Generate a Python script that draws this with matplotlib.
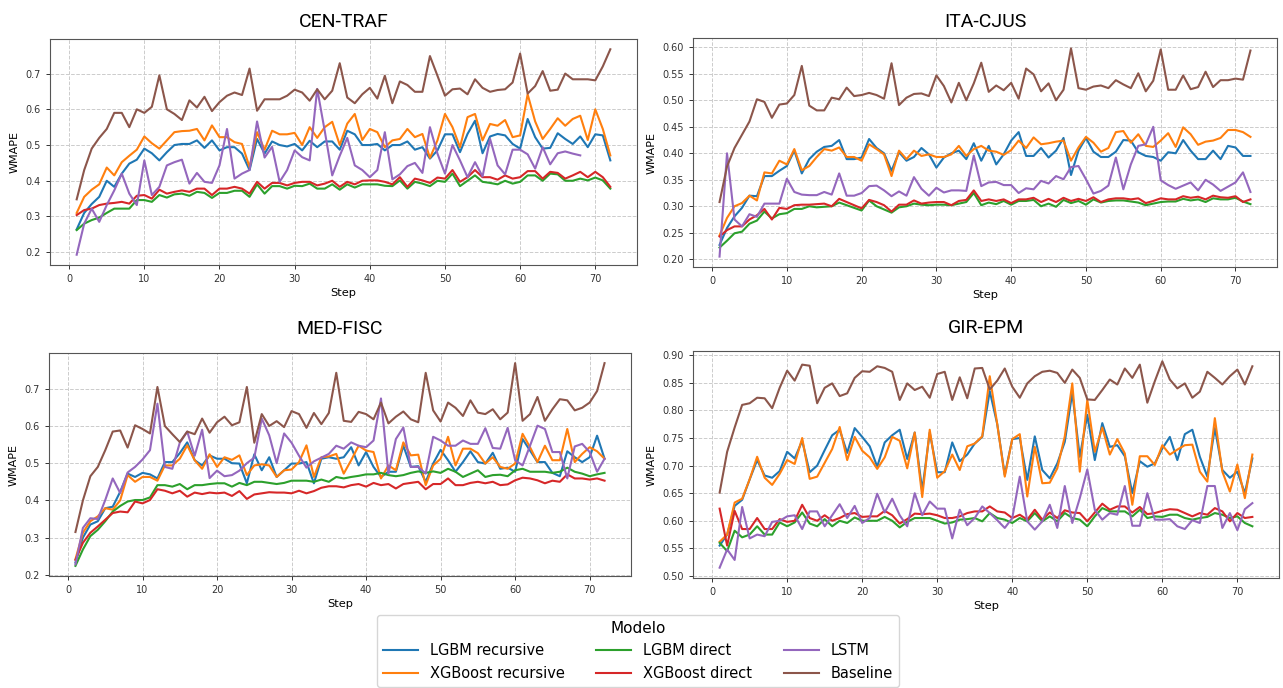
import numpy as np
import matplotlib
matplotlib.use("Agg")
import matplotlib.pyplot as plt

steps = np.arange(1, 73)

model_names = ["LGBM recursive", "XGBoost recursive", "LGBM direct",
               "XGBoost direct", "LSTM", "Baseline"]
model_colors = ["#1f77b4", "#ff7f0e", "#2ca02c", "#d62728", "#9467bd", "#8c564b"]

# ---- CEN-TRAF ----
cen_lgbm_rec = [0.264, 0.31, 0.335, 0.355, 0.40, 0.383, 0.42, 0.448, 0.459, 0.49, 0.477, 0.457, 0.48, 0.50, 0.503, 0.503, 0.513, 0.492, 0.513, 0.485, 0.494, 0.494, 0.476, 0.43, 0.517, 0.476, 0.51, 0.50, 0.496, 0.503, 0.485, 0.512, 0.494, 0.51, 0.51,
                0.487, 0.54, 0.53, 0.50, 0.50, 0.503, 0.485, 0.50, 0.50, 0.51, 0.487, 0.494, 0.462, 0.485, 0.53, 0.53, 0.48, 0.531, 0.568, 0.477, 0.524, 0.531, 0.527, 0.503, 0.49, 0.573, 0.522, 0.49, 0.492, 0.533, 0.517, 0.503, 0.524, 0.494, 0.53, 0.527, 0.457]
cen_xgb_rec = [0.31, 0.355, 0.375, 0.39, 0.437, 0.415, 0.452, 0.47, 0.487, 0.524, 0.505, 0.49, 0.513, 0.536, 0.539, 0.54, 0.545, 0.513, 0.555, 0.522, 0.522, 0.508, 0.503, 0.438, 0.536, 0.487, 0.54, 0.53, 0.53, 0.534, 0.50, 0.55, 0.52, 0.55, 0.565,
               0.50, 0.56, 0.587, 0.514, 0.545, 0.536, 0.494, 0.513, 0.517, 0.545, 0.522, 0.531, 0.464, 0.513, 0.587, 0.55, 0.494, 0.578, 0.587, 0.513, 0.559, 0.554, 0.57, 0.522, 0.527, 0.642, 0.566, 0.517, 0.545, 0.575, 0.554, 0.573, 0.582, 0.514, 0.60, 0.545, 0.471]
cen_lgbm_dir = [0.262, 0.28, 0.29, 0.297, 0.31, 0.322, 0.322, 0.322, 0.346, 0.346, 0.341, 0.36, 0.353, 0.362, 0.364, 0.358, 0.369, 0.366, 0.352, 0.366, 0.366, 0.372, 0.372, 0.355, 0.39, 0.364, 0.385, 0.385, 0.378, 0.386, 0.385, 0.392, 0.378, 0.378, 0.39,
                0.375, 0.39, 0.381, 0.39, 0.39, 0.39, 0.386, 0.385, 0.401, 0.378, 0.397, 0.392, 0.385, 0.40, 0.397, 0.42, 0.385, 0.40, 0.415, 0.397, 0.394, 0.39, 0.40, 0.392, 0.397, 0.415, 0.415, 0.40, 0.42, 0.418, 0.40, 0.40, 0.406, 0.401, 0.409, 0.401, 0.378]
cen_xgb_dir = [0.304, 0.318, 0.322, 0.332, 0.336, 0.338, 0.341, 0.336, 0.358, 0.36, 0.35, 0.375, 0.364, 0.369, 0.373, 0.369, 0.378, 0.378, 0.36, 0.378, 0.378, 0.383, 0.378, 0.364, 0.397, 0.378, 0.394, 0.394, 0.387, 0.394, 0.397, 0.397, 0.387, 0.392, 0.40,
               0.383, 0.397, 0.39, 0.40, 0.401, 0.401, 0.397, 0.39, 0.41, 0.383, 0.406, 0.401, 0.394, 0.409, 0.406, 0.43, 0.397, 0.41, 0.43, 0.41, 0.41, 0.403, 0.415, 0.406, 0.41, 0.427, 0.427, 0.406, 0.425, 0.422, 0.406, 0.415, 0.425, 0.41, 0.425, 0.41, 0.383]
cen_lstm = [0.193, 0.28, 0.322, 0.285, 0.332, 0.373, 0.42, 0.364, 0.332, 0.457, 0.36, 0.383, 0.443, 0.452, 0.459, 0.392, 0.422, 0.397, 0.394, 0.443, 0.545, 0.406, 0.42, 0.43, 0.566, 0.465, 0.495, 0.397, 0.43, 0.485, 0.466, 0.457, 0.657, 0.54, 0.415,
            0.47, 0.52, 0.443, 0.43, 0.41, 0.43, 0.536, 0.404, 0.418, 0.441, 0.45, 0.422, 0.55, 0.476, 0.42, 0.50, 0.457, 0.41, 0.452, 0.412, 0.517, 0.443, 0.418, 0.487, 0.487, 0.474, 0.434, 0.494, 0.446, 0.477, 0.482, 0.476, 0.471, np.nan, np.nan, np.nan, np.nan]
cen_baseline = [0.348, 0.43, 0.49, 0.52, 0.545, 0.59, 0.59, 0.55, 0.60, 0.59, 0.607, 0.695, 0.60, 0.587, 0.57, 0.625, 0.605, 0.635, 0.595, 0.62, 0.638, 0.647, 0.64, 0.714, 0.596, 0.628, 0.628, 0.628, 0.638, 0.655, 0.647, 0.624, 0.656, 0.628, 0.652,
                0.729, 0.633, 0.617, 0.642, 0.66, 0.63, 0.694, 0.617, 0.678, 0.668, 0.649, 0.649, 0.749, 0.694, 0.638, 0.656, 0.658, 0.642, 0.684, 0.66, 0.649, 0.654, 0.656, 0.675, 0.756, 0.644, 0.665, 0.707, 0.652, 0.655, 0.70, 0.684, 0.684, 0.684, 0.681, 0.72, 0.768]

# ---- ITA-CJUS ----
ita_lgbm_rec = [0.227, 0.259, 0.281, 0.297, 0.32, 0.319, 0.357, 0.357, 0.367, 0.376, 0.405, 0.362, 0.389, 0.403, 0.412, 0.414, 0.425, 0.389, 0.389, 0.392, 0.427, 0.41, 0.40, 0.367, 0.402, 0.386, 0.393, 0.41, 0.398, 0.373, 0.392, 0.40, 0.405, 0.389, 0.419,
                0.386, 0.414, 0.379, 0.398, 0.424, 0.44, 0.395, 0.395, 0.41, 0.392, 0.405, 0.429, 0.359, 0.405, 0.429, 0.403, 0.393, 0.393, 0.403, 0.425, 0.424, 0.402, 0.395, 0.393, 0.386, 0.402, 0.40, 0.425, 0.405, 0.389, 0.389, 0.405, 0.389, 0.414, 0.411, 0.395, 0.395]
ita_xgb_rec = [0.245, 0.278, 0.30, 0.306, 0.32, 0.311, 0.364, 0.362, 0.386, 0.379, 0.408, 0.368, 0.376, 0.393, 0.408, 0.405, 0.411, 0.393, 0.393, 0.386, 0.417, 0.408, 0.398, 0.357, 0.405, 0.389, 0.405, 0.395, 0.398, 0.393, 0.393, 0.398, 0.414, 0.395, 0.408,
               0.414, 0.405, 0.403, 0.397, 0.406, 0.424, 0.41, 0.43, 0.417, 0.419, 0.422, 0.424, 0.386, 0.411, 0.431, 0.42, 0.403, 0.41, 0.44, 0.442, 0.42, 0.436, 0.414, 0.412, 0.424, 0.438, 0.412, 0.449, 0.436, 0.416, 0.422, 0.424, 0.429, 0.444, 0.444, 0.44, 0.431]
ita_lgbm_dir = [0.222, 0.235, 0.249, 0.252, 0.267, 0.273, 0.29, 0.277, 0.285, 0.287, 0.295, 0.295, 0.30, 0.298, 0.299, 0.30, 0.307, 0.302, 0.297, 0.292, 0.311, 0.30, 0.294, 0.288, 0.298, 0.30, 0.305, 0.303, 0.302, 0.303, 0.303, 0.302, 0.305, 0.308, 0.325,
                0.302, 0.307, 0.304, 0.31, 0.303, 0.31, 0.31, 0.312, 0.30, 0.305, 0.299, 0.312, 0.306, 0.31, 0.303, 0.313, 0.307, 0.31, 0.311, 0.311, 0.309, 0.307, 0.302, 0.305, 0.308, 0.309, 0.309, 0.314, 0.311, 0.313, 0.308, 0.315, 0.313, 0.313, 0.316, 0.309, 0.304]
ita_xgb_dir = [0.243, 0.255, 0.262, 0.262, 0.275, 0.283, 0.295, 0.275, 0.297, 0.295, 0.302, 0.303, 0.303, 0.304, 0.305, 0.30, 0.314, 0.308, 0.302, 0.296, 0.312, 0.308, 0.302, 0.29, 0.303, 0.303, 0.311, 0.305, 0.307, 0.308, 0.308, 0.302, 0.31, 0.312, 0.33,
               0.31, 0.313, 0.31, 0.313, 0.306, 0.313, 0.313, 0.316, 0.308, 0.314, 0.308, 0.316, 0.31, 0.314, 0.31, 0.317, 0.308, 0.313, 0.315, 0.315, 0.313, 0.315, 0.306, 0.31, 0.315, 0.313, 0.313, 0.319, 0.316, 0.318, 0.313, 0.32, 0.317, 0.316, 0.319, 0.308, 0.313]
ita_lstm = [0.205, 0.40, 0.275, 0.262, 0.285, 0.28, 0.305, 0.305, 0.305, 0.352, 0.327, 0.322, 0.321, 0.321, 0.327, 0.322, 0.362, 0.32, 0.32, 0.325, 0.338, 0.339, 0.33, 0.319, 0.328, 0.32, 0.355, 0.333, 0.32, 0.335, 0.326, 0.33, 0.33, 0.329, 0.396,
            0.338, 0.345, 0.346, 0.34, 0.34, 0.325, 0.334, 0.332, 0.348, 0.343, 0.357, 0.351, 0.374, 0.376, 0.351, 0.324, 0.329, 0.339, 0.392, 0.332, 0.379, 0.414, 0.417, 0.45, 0.349, 0.34, 0.333, 0.339, 0.345, 0.33, 0.35, 0.341, 0.329, 0.337, 0.345, 0.364, 0.327]
ita_baseline = [0.308, 0.375, 0.41, 0.435, 0.46, 0.502, 0.497, 0.467, 0.492, 0.494, 0.51, 0.565, 0.49, 0.481, 0.481, 0.505, 0.502, 0.524, 0.508, 0.51, 0.514, 0.51, 0.503, 0.57, 0.491, 0.505, 0.512, 0.513, 0.508, 0.547, 0.527, 0.496, 0.533, 0.50, 0.532,
                0.571, 0.516, 0.528, 0.519, 0.533, 0.503, 0.56, 0.549, 0.517, 0.532, 0.50, 0.52, 0.598, 0.523, 0.52, 0.526, 0.528, 0.523, 0.538, 0.53, 0.523, 0.551, 0.517, 0.537, 0.596, 0.52, 0.52, 0.547, 0.521, 0.525, 0.554, 0.525, 0.538, 0.538, 0.541, 0.539, 0.594]

# ---- MED-FISC ----
med_lgbm_rec = [0.233, 0.30, 0.335, 0.344, 0.379, 0.383, 0.423, 0.472, 0.463, 0.474, 0.47, 0.459, 0.503, 0.503, 0.527, 0.556, 0.508, 0.494, 0.521, 0.512, 0.512, 0.50, 0.499, 0.446, 0.524, 0.481, 0.516, 0.463, 0.481, 0.499, 0.499, 0.503, 0.446, 0.512, 0.516,
                0.512, 0.516, 0.543, 0.494, 0.53, 0.49, 0.463, 0.477, 0.477, 0.547, 0.49, 0.492, 0.45, 0.499, 0.536, 0.508, 0.477, 0.503, 0.532, 0.503, 0.499, 0.528, 0.485, 0.488, 0.477, 0.565, 0.534, 0.503, 0.503, 0.474, 0.465, 0.532, 0.516, 0.503, 0.516, 0.574, 0.512]
med_xgb_rec = [0.242, 0.313, 0.344, 0.357, 0.379, 0.375, 0.40, 0.468, 0.45, 0.463, 0.463, 0.453, 0.494, 0.494, 0.512, 0.548, 0.508, 0.485, 0.524, 0.49, 0.516, 0.509, 0.521, 0.468, 0.494, 0.497, 0.494, 0.463, 0.481, 0.483, 0.503, 0.548, 0.463, 0.516, 0.518,
               0.525, 0.472, 0.508, 0.547, 0.534, 0.53, 0.459, 0.494, 0.481, 0.556, 0.521, 0.523, 0.441, 0.494, 0.512, 0.571, 0.494, 0.539, 0.539, 0.527, 0.499, 0.516, 0.49, 0.485, 0.499, 0.579, 0.543, 0.503, 0.547, 0.508, 0.508, 0.592, 0.503, 0.525, 0.543, 0.532, 0.512]
med_lgbm_dir = [0.224, 0.268, 0.304, 0.321, 0.344, 0.37, 0.385, 0.397, 0.401, 0.401, 0.408, 0.441, 0.441, 0.437, 0.444, 0.43, 0.441, 0.441, 0.444, 0.446, 0.446, 0.437, 0.447, 0.441, 0.45, 0.45, 0.447, 0.444, 0.447, 0.453, 0.453, 0.453, 0.45, 0.456, 0.45,
                0.463, 0.459, 0.463, 0.466, 0.47, 0.47, 0.474, 0.468, 0.465, 0.468, 0.474, 0.478, 0.474, 0.478, 0.474, 0.485, 0.477, 0.463, 0.472, 0.481, 0.463, 0.468, 0.469, 0.465, 0.481, 0.485, 0.477, 0.477, 0.477, 0.474, 0.477, 0.488, 0.477, 0.472, 0.465, 0.47, 0.474]
med_xgb_dir = [0.24, 0.286, 0.313, 0.33, 0.348, 0.366, 0.37, 0.368, 0.397, 0.392, 0.401, 0.43, 0.426, 0.419, 0.426, 0.41, 0.421, 0.417, 0.421, 0.419, 0.421, 0.412, 0.425, 0.404, 0.416, 0.419, 0.422, 0.421, 0.421, 0.419, 0.426, 0.419, 0.425, 0.434, 0.438,
               0.438, 0.435, 0.441, 0.444, 0.437, 0.447, 0.441, 0.444, 0.432, 0.444, 0.447, 0.45, 0.43, 0.444, 0.444, 0.459, 0.441, 0.441, 0.447, 0.45, 0.446, 0.45, 0.441, 0.443, 0.454, 0.461, 0.459, 0.454, 0.446, 0.453, 0.45, 0.47, 0.459, 0.459, 0.456, 0.459, 0.453]
med_lstm = [0.228, 0.326, 0.352, 0.35, 0.401, 0.459, 0.42, 0.475, 0.49, 0.51, 0.535, 0.66, 0.49, 0.485, 0.555, 0.585, 0.52, 0.59, 0.46, 0.48, 0.465, 0.468, 0.48, 0.50, 0.515, 0.62, 0.575, 0.50, 0.58, 0.555, 0.52, 0.488, 0.505, 0.515, 0.525,
            0.547, 0.539, 0.556, 0.547, 0.543, 0.561, 0.674, 0.472, 0.565, 0.596, 0.49, 0.49, 0.472, 0.571, 0.561, 0.547, 0.547, 0.561, 0.552, 0.552, 0.594, 0.541, 0.539, 0.595, 0.508, 0.494, 0.547, 0.601, 0.592, 0.53, 0.53, 0.459, 0.545, 0.552, 0.53, 0.477, 0.512]
med_baseline = [0.315, 0.40, 0.465, 0.49, 0.535, 0.585, 0.588, 0.542, 0.602, 0.592, 0.58, 0.705, 0.60, 0.578, 0.557, 0.585, 0.578, 0.62, 0.582, 0.61, 0.625, 0.602, 0.61, 0.705, 0.555, 0.632, 0.60, 0.613, 0.597, 0.64, 0.632, 0.595, 0.635, 0.605, 0.635,
                0.743, 0.614, 0.611, 0.638, 0.632, 0.618, 0.663, 0.607, 0.625, 0.639, 0.618, 0.61, 0.743, 0.642, 0.612, 0.663, 0.649, 0.627, 0.669, 0.636, 0.632, 0.645, 0.618, 0.636, 0.769, 0.614, 0.632, 0.678, 0.614, 0.645, 0.672, 0.669, 0.642, 0.649, 0.663, 0.694, 0.769]

# ---- GIR-EPM ----
gir_lgbm_rec = [0.555, 0.575, 0.627, 0.638, 0.675, 0.71, 0.682, 0.678, 0.69, 0.725, 0.713, 0.745, 0.688, 0.70, 0.728, 0.755, 0.765, 0.723, 0.768, 0.752, 0.735, 0.698, 0.742, 0.755, 0.765, 0.712, 0.76, 0.655, 0.76, 0.688, 0.688, 0.742, 0.708, 0.72, 0.74,
                0.752, 0.835, 0.775, 0.683, 0.748, 0.75, 0.674, 0.753, 0.692, 0.677, 0.704, 0.743, 0.832, 0.716, 0.792, 0.71, 0.777, 0.734, 0.737, 0.717, 0.65, 0.708, 0.698, 0.704, 0.731, 0.752, 0.71, 0.757, 0.765, 0.716, 0.68, 0.768, 0.692, 0.678, 0.689, 0.65, 0.713]
gir_xgb_rec = [0.562, 0.575, 0.633, 0.64, 0.675, 0.716, 0.678, 0.665, 0.685, 0.71, 0.703, 0.75, 0.676, 0.68, 0.705, 0.73, 0.77, 0.71, 0.752, 0.727, 0.715, 0.694, 0.715, 0.752, 0.745, 0.695, 0.76, 0.643, 0.765, 0.678, 0.69, 0.72, 0.692, 0.735, 0.74,
               0.753, 0.862, 0.775, 0.68, 0.748, 0.757, 0.644, 0.734, 0.668, 0.669, 0.695, 0.753, 0.849, 0.689, 0.819, 0.725, 0.769, 0.72, 0.748, 0.722, 0.629, 0.717, 0.717, 0.701, 0.737, 0.72, 0.729, 0.737, 0.738, 0.689, 0.671, 0.786, 0.689, 0.653, 0.702, 0.641, 0.72]
gir_lgbm_dir = [0.56, 0.545, 0.582, 0.57, 0.575, 0.59, 0.575, 0.575, 0.597, 0.59, 0.597, 0.615, 0.595, 0.59, 0.603, 0.59, 0.60, 0.596, 0.606, 0.60, 0.60, 0.60, 0.607, 0.60, 0.588, 0.598, 0.605, 0.605, 0.605, 0.60, 0.595, 0.597, 0.602, 0.603, 0.605,
                0.599, 0.614, 0.605, 0.602, 0.596, 0.605, 0.599, 0.614, 0.599, 0.608, 0.599, 0.614, 0.605, 0.602, 0.59, 0.608, 0.623, 0.617, 0.617, 0.617, 0.608, 0.62, 0.605, 0.608, 0.607, 0.611, 0.611, 0.605, 0.602, 0.605, 0.607, 0.614, 0.611, 0.605, 0.608, 0.596, 0.59]
gir_xgb_dir = [0.622, 0.555, 0.618, 0.585, 0.585, 0.605, 0.585, 0.585, 0.603, 0.598, 0.60, 0.629, 0.605, 0.60, 0.61, 0.60, 0.605, 0.612, 0.614, 0.607, 0.608, 0.608, 0.618, 0.61, 0.595, 0.603, 0.613, 0.612, 0.613, 0.61, 0.605, 0.605, 0.608, 0.614, 0.617,
               0.617, 0.626, 0.617, 0.615, 0.605, 0.611, 0.602, 0.62, 0.602, 0.615, 0.605, 0.619, 0.615, 0.614, 0.599, 0.615, 0.631, 0.62, 0.626, 0.626, 0.615, 0.625, 0.612, 0.614, 0.618, 0.621, 0.62, 0.614, 0.608, 0.614, 0.611, 0.623, 0.617, 0.599, 0.614, 0.605, 0.607]
gir_lstm = [0.515, 0.548, 0.529, 0.625, 0.568, 0.575, 0.572, 0.598, 0.60, 0.608, 0.61, 0.585, 0.617, 0.617, 0.59, 0.61, 0.63, 0.605, 0.627, 0.596, 0.605, 0.649, 0.615, 0.64, 0.61, 0.59, 0.65, 0.61, 0.635, 0.622, 0.622, 0.568, 0.62, 0.592, 0.605,
            0.626, 0.614, 0.601, 0.587, 0.605, 0.68, 0.599, 0.584, 0.599, 0.629, 0.587, 0.663, 0.596, 0.641, 0.693, 0.62, 0.602, 0.614, 0.611, 0.663, 0.591, 0.591, 0.65, 0.602, 0.602, 0.603, 0.59, 0.585, 0.601, 0.596, 0.663, 0.663, 0.587, 0.614, 0.583, 0.621, 0.632]
gir_baseline = [0.651, 0.725, 0.769, 0.81, 0.813, 0.823, 0.822, 0.804, 0.841, 0.872, 0.854, 0.883, 0.881, 0.813, 0.841, 0.849, 0.826, 0.831, 0.859, 0.871, 0.87, 0.88, 0.877, 0.87, 0.819, 0.849, 0.837, 0.843, 0.823, 0.866, 0.87, 0.819, 0.86, 0.822, 0.876,
                0.877, 0.838, 0.854, 0.876, 0.843, 0.823, 0.849, 0.862, 0.87, 0.872, 0.868, 0.85, 0.874, 0.859, 0.82, 0.819, 0.837, 0.856, 0.847, 0.876, 0.859, 0.883, 0.814, 0.853, 0.889, 0.856, 0.84, 0.849, 0.823, 0.834, 0.87, 0.859, 0.847, 0.862, 0.874, 0.847, 0.88]

panels = [
    ("CEN-TRAF", [cen_lgbm_rec, cen_xgb_rec, cen_lgbm_dir, cen_xgb_dir, cen_lstm, cen_baseline]),
    ("ITA-CJUS", [ita_lgbm_rec, ita_xgb_rec, ita_lgbm_dir, ita_xgb_dir, ita_lstm, ita_baseline]),
    ("MED-FISC", [med_lgbm_rec, med_xgb_rec, med_lgbm_dir, med_xgb_dir, med_lstm, med_baseline]),
    ("GIR-EPM", [gir_lgbm_rec, gir_xgb_rec, gir_lgbm_dir, gir_xgb_dir, gir_lstm, gir_baseline]),
]

W, H = 1283, 688
# axes boxes in pixels: left, top, right, bottom
boxes = [(50, 39, 637, 265), (693, 38, 1277, 267),
         (49, 353, 631, 576), (693, 351, 1279, 578)]
title_pads = [8.5, 8, 14, 13]

fig = plt.figure(figsize=(W / 100, H / 100), dpi=100)

handles = []
for (name, series), (l, t, r, b), pad in zip(panels, boxes, title_pads):
    ax = fig.add_axes([l / W, 1 - b / H, (r - l) / W, (b - t) / H])
    for vals, label, color in zip(series, model_names, model_colors):
        line, = ax.plot(steps, vals, color=color, lw=1.5, label=label)
        if len(handles) < len(model_names):
            handles.append(line)
    ax.grid(True, linestyle="--", color="#cccccc", linewidth=0.7)
    ax.set_axisbelow(True)
    ax.tick_params(labelsize=7, length=3, width=0.7, colors="#333333")
    for sp in ax.spines.values():
        sp.set_color("#555555")
    ax.set_xlabel("Step", fontsize=8.2, labelpad=3)
    ax.set_ylabel("WMAPE", fontsize=8, labelpad=4)
    ax.set_title(name, fontsize=14, pad=pad, family=["Roboto", "DejaVu Sans"])

leg = fig.legend(handles, model_names, loc="upper center", ncol=3,
                 bbox_to_anchor=(638 / W, 1 - 608 / H), title="Modelo",
                 fontsize=10.5, title_fontsize=11, handlelength=2.4,
                 columnspacing=2.2, frameon=True)
leg.get_frame().set_edgecolor("#cccccc")

fig.savefig("out.png", dpi=100)
